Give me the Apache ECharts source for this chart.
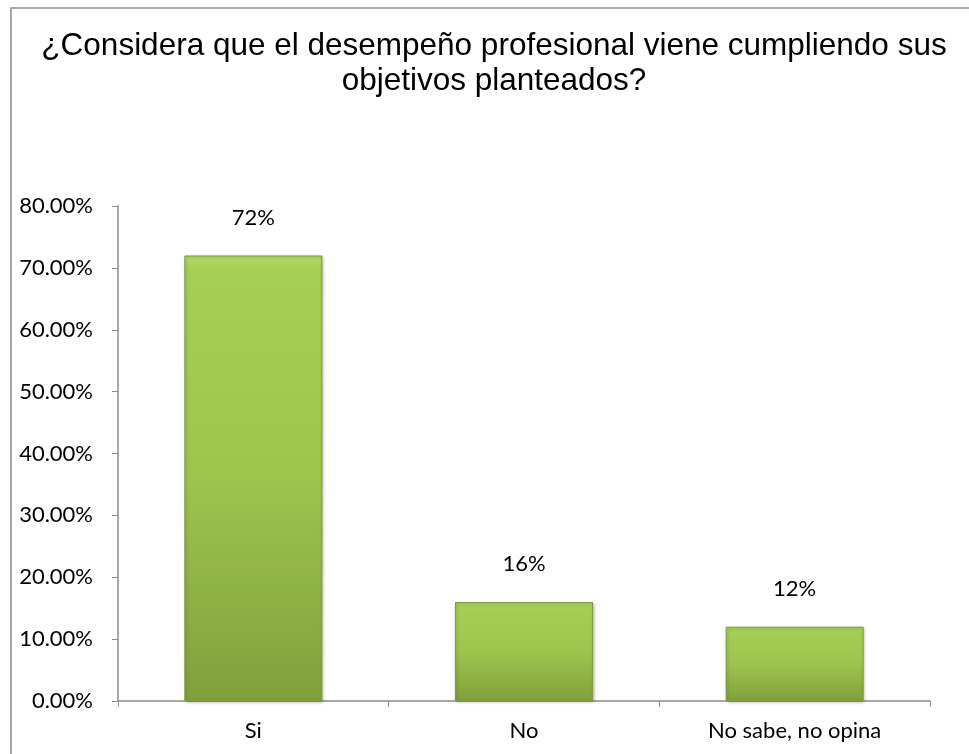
<!DOCTYPE html>
<html>
<head>
<meta charset="utf-8">
<script src="https://cdn.jsdelivr.net/npm/echarts@6/dist/echarts.min.js"></script>
<style>
html,body{margin:0;padding:0;background:#fff;}
#chart{width:969px;height:754px;}
</style>
</head>
<body>
<div id="chart"></div>
<script>
// datos de la encuesta
var categorias = ['Si', 'No', 'No sabe, no opina'];
var valores = [0.72, 0.16, 0.12];
var etiquetas = ['72%', '16%', '12%'];
var titulo = '¿Considera que el desempeño profesional viene cumpliendo sus\nobjetivos planteados?';

var fuente = 'Lato, "Open Sans", sans-serif';

var barColor = new echarts.graphic.LinearGradient(0, 0, 0, 1, [
	{offset: 0, color: '#b6db6a'},
	{offset: 0.03, color: '#a6cf55'},
	{offset: 0.5, color: '#9ec44e'},
	{offset: 1, color: '#80a03c'}
]);

var myChart = echarts.init(document.getElementById('chart'));
var option = {
	backgroundColor: '#fff',
	animation: false,
	title: {
		text: titulo,
		left: 489,
		top: 24,
		textAlign: 'center',
		textStyle: {
			fontFamily: '"Liberation Sans", Arial, sans-serif',
			fontWeight: 'normal',
			fontSize: 31.5,
			lineHeight: 35,
			color: '#000'
		}
	},
	graphic: [{
		type: 'rect',
		shape: {x: 11, y: 8, width: 1000, height: 800},
		style: {fill: 'none', stroke: '#8c8c8c', lineWidth: 1.5},
		silent: true,
		z: -1
	}],
	grid: {left: 118, right: 39, top: 206, bottom: 53},
	xAxis: {
		type: 'category',
		data: categorias,
		axisLine: {lineStyle: {color: '#8c8c8c', width: 1.5}},
		axisTick: {show: true, length: 6, lineStyle: {color: '#8c8c8c'}},
		axisLabel: {
			color: '#000',
			fontFamily: fuente,
			fontSize: 22,
			margin: 19
		}
	},
	yAxis: {
		type: 'value',
		min: 0,
		max: 0.8,
		interval: 0.1,
		splitLine: {show: false},
		axisLine: {show: true, lineStyle: {color: '#8c8c8c', width: 1.5}},
		axisTick: {show: true, length: 6, lineStyle: {color: '#8c8c8c'}},
		axisLabel: {
			color: '#000',
			fontFamily: fuente,
			fontSize: 22,
			margin: 25,
			formatter: function(v){ return (v * 100).toFixed(2) + '%'; }
		}
	},
	series: [{
		type: 'bar',
		data: valores,
		barWidth: '51%',
		itemStyle: {
			color: barColor,
			borderColor: '#7f9c45',
			borderWidth: 1,
			shadowColor: 'rgba(0,0,0,0.25)',
			shadowBlur: 3,
			shadowOffsetX: 1,
			shadowOffsetY: 1
		},
		label: {
			show: true,
			position: 'top',
			distance: 27,
			color: '#000',
			fontFamily: fuente,
			fontSize: 22,
			formatter: function(p){ return etiquetas[p.dataIndex]; }
		}
	}]
};
myChart.setOption(option);
</script>
</body>
</html>
